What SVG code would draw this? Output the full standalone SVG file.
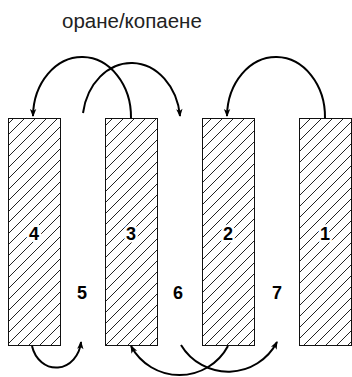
<svg xmlns="http://www.w3.org/2000/svg" width="352" height="377" viewBox="0 0 352 377">
<style>
.bed{fill:url(#hatch);stroke:#111;stroke-width:1}
.num{font-family:"Liberation Sans",Arial,sans-serif;font-weight:bold;font-size:18px;text-anchor:middle;fill:#000;paint-order:stroke;stroke:#fff;stroke-width:5;stroke-linejoin:round}
.title{font-family:"Liberation Sans",Arial,sans-serif;font-size:20.5px;fill:#222}
.arc{fill:none;stroke:#000;stroke-width:2;marker-end:url(#arr)}
</style>
<defs>
<pattern id="hatch" patternUnits="userSpaceOnUse" width="11" height="11">
<rect width="11" height="11" fill="#fff"/>
<path d="M-1,1 L1,-1 M0,11 L11,0 M10,12 L12,10" stroke="#222" stroke-width="1"/>
</pattern>
<marker id="arr" viewBox="-1 -4 10 8" refX="7" refY="0" markerWidth="10" markerHeight="8" markerUnits="userSpaceOnUse" orient="auto">
<path d="M0,-3.2 L8,0 L0,3.2 L2,0 z" fill="#000"/>
</marker>
</defs>
<rect width="352" height="377" fill="#fff"/>
<text class="title" x="62" y="28">оране/копаене</text>
<g id="bed4"><rect class="bed" x="8.5" y="118.5" width="52" height="227"/><text class="num" x="34" y="240">4</text></g>
<g id="bed3"><rect class="bed" x="105.5" y="118.5" width="52" height="227"/><text class="num" x="131" y="240">3</text></g>
<g id="bed2"><rect class="bed" x="202.5" y="118.5" width="52" height="227"/><text class="num" x="228" y="240">2</text></g>
<g id="bed1"><rect class="bed" x="299.5" y="118.5" width="52" height="227"/><text class="num" x="325" y="240">1</text></g>
<g id="gap5"><text class="num" x="82" y="299">5</text></g>
<g id="gap6"><text class="num" x="178" y="299">6</text></g>
<g id="gap7"><text class="num" x="277" y="299">7</text></g>
<g id="connectors">
<path class="arc" d="M131,118 A49,60 0 0 0 33,116"/>
<path class="arc" d="M83,113 A49,60 0 0 1 180,116"/>
<path class="arc" d="M325,118 A49,60 0 0 0 227,116"/>
<path class="arc" d="M32,346 A25,29 0 0 0 81,342"/>
<path class="arc" d="M228,346 A55,55 0 0 1 131,346"/>
<path class="arc" d="M181,345 A55,55 0 0 0 277,342"/>
</g>
</svg>
